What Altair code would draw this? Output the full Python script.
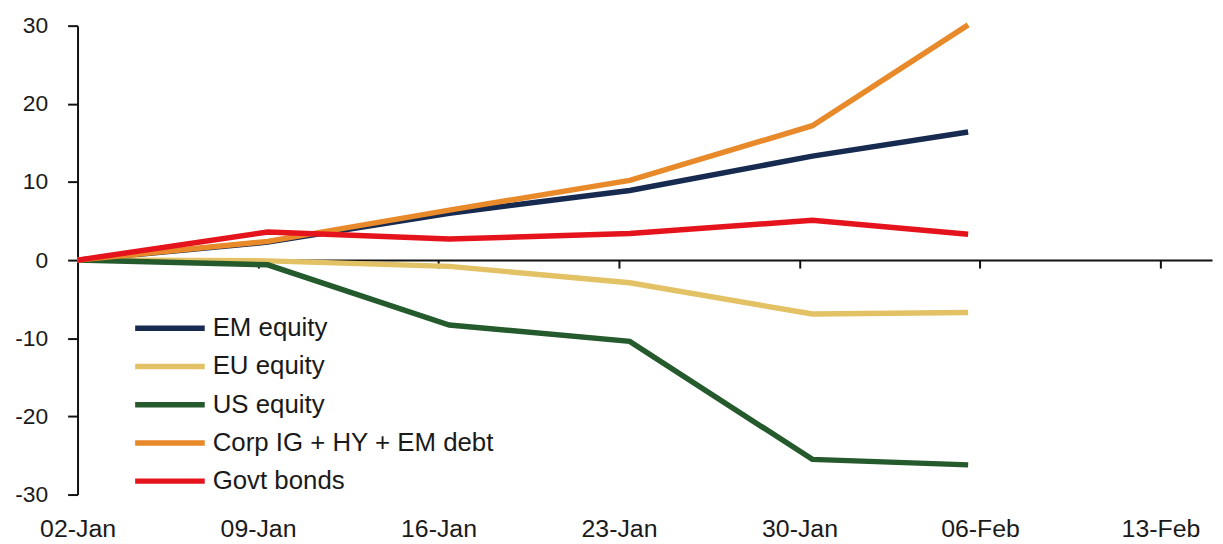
import altair as alt
import pandas as pd

# Observation dates (kinks sit slightly after the weekly tick marks)
obs_dates = ["2025-01-02T00:00", "2025-01-09T09:00", "2025-01-16T10:00",
             "2025-01-23T10:00", "2025-01-30T12:00", "2025-02-05T13:00"]

series_names = ["EM equity", "EU equity", "US equity",
                "Corp IG + HY + EM debt", "Govt bonds"]
series_colors = ["#172a50", "#e3c266", "#245a2c", "#e8892a", "#e5141c"]

em_equity = [0, 2.3, 6.0, 8.9, 13.3, 16.4]
eu_equity = [0, -0.1, -0.8, -2.9, -6.9, -6.7]
us_equity = [0, -0.6, -8.3, -10.4, -25.5, -26.2]
corp_debt = [0, 2.4, 6.4, 10.2, 17.2, 30.1]
govt_bonds = [0, 3.6, 2.7, 3.4, 5.1, 3.3]

tick_labels = ["02-Jan", "09-Jan", "16-Jan", "23-Jan", "30-Jan", "06-Feb", "13-Feb"]
tick_days = [0, 7, 14, 21, 28, 35, 42]
y_ticks = [-30, -20, -10, 0, 10, 20, 30]

start = pd.Timestamp("2025-01-02")
days = [(pd.Timestamp(d) - start) / pd.Timedelta(days=1) for d in obs_dates]

rows = []
for name, vals in zip(series_names,
                      [em_equity, eu_equity, us_equity, corp_debt, govt_bonds]):
    for d, v in zip(days, vals):
        rows.append({"series": name, "day": d, "value": v})
df = pd.DataFrame(rows)

FONT = "Liberation Sans"
label_expr = "[" + ",".join(f"'{t}'" for t in tick_labels) + "][round(datum.value/7)]"

x_scale = alt.Scale(domain=[0, 44], nice=False, zero=False)
y_scale = alt.Scale(domain=[-30, 30], nice=False)

y_axis = alt.Axis(values=y_ticks, grid=False, domainColor="#111",
                  domainWidth=2, tickColor="#111", tickWidth=2,
                  tickSize=10, labelFontSize=23, labelFont=FONT,
                  labelColor="#1a1a1a", labelPadding=20,
                  labelExpr="'' + datum.value",
                  labelFlush=False, labelOverlap=False)

lines = alt.Chart(df).mark_line(strokeWidth=5.5).encode(
    x=alt.X("day:Q", scale=x_scale, title=None,
            axis=alt.Axis(values=tick_days, labelExpr=label_expr, grid=False,
                          domain=False, ticks=False, labelFontSize=25,
                          labelFont=FONT, labelColor="#1a1a1a",
                          labelPadding=22, labelFlush=False,
                          labelOverlap=False, orient="bottom")),
    y=alt.Y("value:Q", scale=y_scale, title=None, axis=y_axis),
    color=alt.Color("series:N",
                    scale=alt.Scale(domain=series_names, range=series_colors),
                    legend=alt.Legend(title=None, orient="none", legendX=55,
                                      legendY=291, padding=0,
                                      symbolType="M-1,0H5.67",
                                      symbolSize=441, symbolStrokeWidth=5.5,
                                      labelFontSize=26, labelFont=FONT,
                                      labelColor="#1a1a1a", labelOffset=54,
                                      rowPadding=11.5, labelLimit=500)),
    order=alt.Order("day:Q"),
)

zero_axis = alt.Chart(df).mark_line(opacity=0).encode(
    x=alt.X("day:Q", scale=x_scale, title=None,
            axis=alt.Axis(values=tick_days, labels=False, grid=False,
                          domainColor="#111", domainWidth=2, tickColor="#111",
                          tickWidth=2, tickSize=8, orient="bottom",
                          offset=-236)),
    y=alt.Y("value:Q", scale=y_scale, title=None, axis=y_axis),
    detail="series:N",
)

chart = alt.layer(zero_axis, lines).resolve_axis(x="independent").properties(
    width=1142, height=472,
    autosize=alt.AutoSizeParams(type="none"),
    padding={"left": 70, "top": 16, "right": 3, "bottom": 48},
).configure(background="white").configure_view(stroke=None)

chart.save("out.html", embed_options={"renderer": "svg", "actions": False})
